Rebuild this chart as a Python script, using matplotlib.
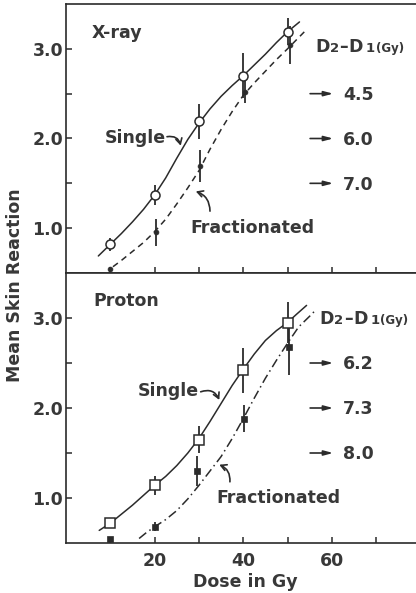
import matplotlib
matplotlib.use("Agg")
import matplotlib.pyplot as plt
import matplotlib.transforms as mtransforms
from matplotlib.ticker import MultipleLocator, FixedLocator

plt.rcParams['font.family'] = ['DejaVu Sans']
plt.rcParams['font.weight'] = 'bold'

# ---------------- data ----------------
dose = [10, 20, 30, 40, 50]

# X-ray
xray_single_y = [0.82, 1.37, 2.19, 2.70, 3.19]
xray_single_err = [0.07, 0.11, 0.20, 0.25, 0.15]
xray_frac_x = [10, 20.3, 30.3, 40.4, 50.6]
xray_frac_y = [0.55, 0.955, 1.69, 2.52, 3.04]
xray_frac_err = [0.0, 0.15, 0.18, 0.12, 0.21]

xray_single_curve_x = [7.3, 10, 12.5, 15, 17.5, 20, 22.5, 25, 27.5, 30, 32.5, 35, 37.5, 40, 42.5, 45, 47.5, 50, 52.7]
xray_single_curve_y = [0.69, 0.82, 0.94, 1.07, 1.21, 1.37, 1.56, 1.78, 1.99, 2.17, 2.33, 2.47, 2.59, 2.70, 2.82, 2.94, 3.07, 3.19, 3.30]
xray_frac_curve_x = [10.6, 12.5, 15, 17.5, 20, 22.5, 25, 27.5, 30, 32.5, 35, 37.5, 40, 42.5, 45, 47.5, 50, 52, 54]
xray_frac_curve_y = [0.57, 0.64, 0.74, 0.84, 0.96, 1.10, 1.27, 1.45, 1.64, 1.88, 2.10, 2.30, 2.48, 2.62, 2.75, 2.88, 3.00, 3.10, 3.20]

# Proton
proton_single_y = [0.72, 1.14, 1.65, 2.42, 2.95]
proton_single_err = [0.04, 0.11, 0.15, 0.25, 0.23]
proton_frac_x = [10, 20, 29.6, 40.1, 50.4]
proton_frac_y = [0.55, 0.68, 1.30, 1.88, 2.68]
proton_frac_err = [0.0, 0.05, 0.17, 0.15, 0.31]

proton_single_curve_x = [7.5, 10, 12.5, 15, 17.5, 20, 22.5, 25, 27.5, 30, 32.5, 35, 37.5, 40, 42.5, 45, 47.5, 50, 52, 54.3]
proton_single_curve_y = [0.64, 0.72, 0.82, 0.92, 1.03, 1.14, 1.24, 1.36, 1.50, 1.66, 1.85, 2.05, 2.25, 2.43, 2.60, 2.75, 2.86, 2.95, 3.04, 3.14]
proton_frac_curve_x = [16.5, 18, 20, 22.5, 25, 27.5, 30, 32.5, 35, 37.5, 40, 42.5, 45, 47.5, 50, 52.5, 55, 56.2]
proton_frac_curve_y = [0.55, 0.61, 0.68, 0.76, 0.86, 0.99, 1.14, 1.30, 1.46, 1.66, 1.88, 2.11, 2.33, 2.53, 2.72, 2.90, 3.02, 3.08]

xray_ratios = ["4.5", "6.0", "7.0"]
proton_ratios = ["6.2", "7.3", "8.0"]
ratio_levels = [2.5, 2.0, 1.5]

x_major = [20, 40, 60]
x_minor = [10, 30, 50, 70]

# ---------------- figure ----------------
W, H = 416, 593
fig = plt.figure(figsize=(W / 100, H / 100), dpi=100)
fig.patch.set_facecolor('white')

INK = '#2b2b2b'
TXT = '#383838'
FS = 12.5

left = 66 / W
ax1 = fig.add_axes([left, 1 - 273 / H, 1 - left, (273 - 4) / H])
ax2 = fig.add_axes([left, 1 - 543 / H, 1 - left, 270 / H])

for ax in (ax1, ax2):
    ax.set_xlim(0, 79)
    ax.set_ylim(0.5, 3.5)
    ax.spines['right'].set_visible(False)
    for s in ('left', 'top', 'bottom'):
        ax.spines[s].set_color(INK)
        ax.spines[s].set_linewidth(1.2)
    ax.xaxis.set_major_locator(FixedLocator(x_major))
    ax.xaxis.set_minor_locator(FixedLocator(x_minor))
    ax.yaxis.set_major_locator(MultipleLocator(1.0))
    ax.yaxis.set_minor_locator(FixedLocator([1.5, 2.5]))
    ax.yaxis.set_major_formatter(plt.FuncFormatter(lambda v, p: f"{v:.1f}"))
    ax.tick_params(which='both', direction='in', length=4.5, width=1.1, color=INK,
                   labelsize=FS, labelcolor=TXT, top=False, right=False)
    ax.tick_params(axis='y', pad=2)
    ax.tick_params(axis='x', pad=6.5)

ax1.tick_params(axis='x', labelbottom=False)


def draw_panel(ax, sx, sy, serr, fx, fy, ferr, scx, scy, fcx, fcy, marker_open, marker_fill,
               ms_open, ms_fill, frac_ls):
    ax.plot(scx, scy, color=INK, lw=1.1, solid_capstyle='round', zorder=2)
    ax.plot(fcx, fcy, color=INK, lw=1.1, linestyle=frac_ls, zorder=2)
    ax.errorbar(sx, sy, yerr=serr, fmt='none', ecolor=INK, elinewidth=1.3, capsize=0, zorder=3)
    ax.errorbar(fx, fy, yerr=ferr, fmt='none', ecolor=INK, elinewidth=1.3, capsize=0, zorder=3)
    ax.plot(sx, sy, linestyle='none', marker=marker_open, ms=ms_open, mfc='white',
            mec=INK, mew=1.1, zorder=4)
    ax.plot(fx, fy, linestyle='none', marker=marker_fill, ms=ms_fill, mfc=INK,
            mec=INK, mew=0.5, zorder=4)


draw_panel(ax1, dose, xray_single_y, xray_single_err, xray_frac_x, xray_frac_y, xray_frac_err,
           xray_single_curve_x, xray_single_curve_y, xray_frac_curve_x, xray_frac_curve_y,
           'o', 'o', 6.5, 3.5, (0, (4, 3)))
draw_panel(ax2, dose, proton_single_y, proton_single_err, proton_frac_x, proton_frac_y, proton_frac_err,
           proton_single_curve_x, proton_single_curve_y, proton_frac_curve_x, proton_frac_curve_y,
           's', 's', 6.5, 4.5, (0, (6, 2.5, 1, 2.5)))

# panel titles
ax1.text(5.8, 3.12, "X-ray", fontsize=FS, color=TXT, ha='left', va='baseline')
ax2.text(6.2, 3.13, "Proton", fontsize=FS, color=TXT, ha='left', va='baseline')

# curve labels with curved arrows
arrow_kw = dict(arrowstyle='->,head_length=0.4,head_width=0.22', color=INK, lw=1.2,
                shrinkA=0, shrinkB=0, mutation_scale=10)

ax1.text(8.8, 1.95, "Single", fontsize=FS, color=TXT, ha='left', va='baseline')
ax1.annotate('', xy=(25.9, 1.92), xytext=(22.8, 2.02),
             arrowprops=dict(connectionstyle='arc3,rad=-0.45', **arrow_kw))
ax1.text(28.0, 0.95, "Fractionated", fontsize=FS, color=TXT, ha='left', va='baseline')
ax1.annotate('', xy=(29.3, 1.41), xytext=(32.5, 1.19),
             arrowprops=dict(connectionstyle='arc3,rad=0.35', **arrow_kw))

ax2.text(16.3, 2.13, "Single", fontsize=FS, color=TXT, ha='left', va='baseline')
ax2.annotate('', xy=(34.6, 2.09), xytext=(30.4, 2.18),
             arrowprops=dict(connectionstyle='arc3,rad=-0.45', **arrow_kw))
ax2.text(33.9, 0.94, "Fractionated", fontsize=FS, color=TXT, ha='left', va='baseline')
ax2.annotate('', xy=(34.6, 1.37), xytext=(37.0, 1.18),
             arrowprops=dict(connectionstyle='arc3,rad=0.35', **arrow_kw))

renderer = fig.canvas.get_renderer()


def rich_text(ax, x, y, pieces):
    px, py = ax.transData.transform((x, y))
    for s, size, gap in pieces:
        t = fig.text(px, py, s, transform=mtransforms.IdentityTransform(), fontsize=size,
                     color=TXT, ha='left', va='baseline')
        bb = t.get_window_extent(renderer)
        px = bb.x1 + gap


dd_pieces = [("D", FS, 0.5), ("2", 9.5, 0.5), ("\u2013", FS, 0.5), ("D", FS, 3),
             ("1", 9.5, 0.5), ("(Gy)", 8.5, 0)]
rich_text(ax1, 56.2, 2.96, dd_pieces)
rich_text(ax2, 57.2, 2.93, dd_pieces)

ratio_arrow = dict(arrowstyle='-|>,head_length=0.6,head_width=0.16', color=INK, lw=1.2,
                   shrinkA=0, shrinkB=0, mutation_scale=9)
for ax, labels in ((ax1, xray_ratios), (ax2, proton_ratios)):
    for lab, lev in zip(labels, ratio_levels):
        ax.annotate('', xy=(60.3, lev), xytext=(55.1, lev), arrowprops=ratio_arrow)
        ax.text(62.5, lev - 0.072, lab, fontsize=FS, color=TXT, ha='left', va='baseline')

# axis labels
fig.text(15 / W, 1 - 285 / H, "Mean Skin Reaction", rotation=90, fontsize=FS, color=TXT,
         ha='center', va='center')
fig.text(245 / W, 1 - 587 / H, "Dose in Gy", fontsize=FS, color=TXT, ha='center', va='baseline')

fig.savefig("out.png", dpi=100)
